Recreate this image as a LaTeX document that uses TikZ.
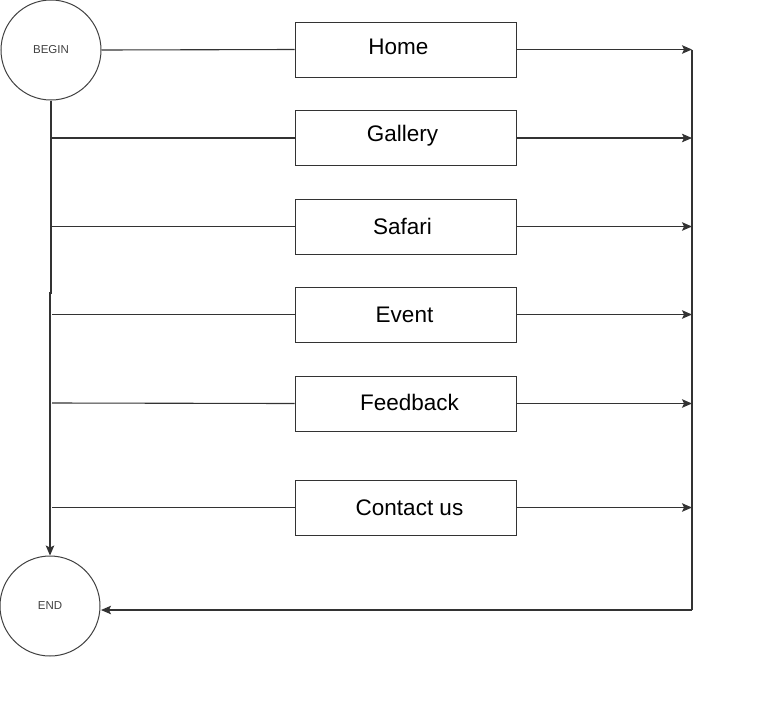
\documentclass[tikz,border=0pt]{standalone}
\usepackage{fontspec}
\setmainfont{Liberation Sans}
\usetikzlibrary{arrows.meta}
\begin{document}
\begin{tikzpicture}[x=1pt,y=-1pt,
  ln/.style={draw=black!80,line width=1.1pt},
  arr/.style={ln,-{Stealth[length=10pt,width=8.5pt,inset=2pt]}},
  term/.style={circle,draw=black!75,line width=1pt,minimum size=100pt,inner sep=0pt,font=\fontsize{11.5}{13}\selectfont,text=black!75},
  lbl/.style={font=\fontsize{22.5}{26}\selectfont},
  pagebox/.style={draw=black!80,line width=1pt,minimum width=221pt,minimum height=55pt,inner sep=0pt}]
\useasboundingbox (0,0) rectangle (766,713);
\node[term] (begin) at (51,50) {BEGIN};
\node[term] (end) at (50,606) {END};
\node[pagebox,label={[lbl,xshift=-7pt,yshift=3pt]center:Home}] (home) at (405.5,49.5) {};
\node[pagebox,label={[lbl,xshift=-3pt,yshift=2pt]center:Gallery}] (gallery) at (405.5,138) {};
\node[pagebox,label={[lbl,xshift=-3pt]center:Safari}] (safari) at (405.5,226.5) {};
\node[pagebox,label={[lbl,xshift=-1pt]center:Event}] (event) at (405.5,314.5) {};
\node[pagebox,label={[lbl,xshift=4pt,yshift=1pt]center:Feedback}] (feedback) at (405.5,403.5) {};
\node[pagebox,label={[lbl,xshift=4pt]center:Contact us}] (contact) at (405.5,507.5) {};
% left trunk
\coordinate (k1) at (51,293);
\coordinate (k2) at (50,293);
\draw[arr] (begin.south) -- (k1) -- (k2) -- (end.north);
\coordinate (lg) at (52,138);
\coordinate (ls) at (52,226.5);
\coordinate (le) at (52,314.5);
\coordinate (lf) at (52,403);
\coordinate (lc) at (52,507.5);
\draw[ln] (begin.east) -- (home.west);
\draw[ln] (lg) -- (gallery.west);
\draw[ln] (ls) -- (safari.west);
\draw[ln] (le) -- (event.west);
\draw[ln] (lf) -- (feedback.west);
\draw[ln] (lc) -- (contact.west);
% right collector
\coordinate (rh) at (692,49.5);
\coordinate (rg) at (692,138);
\coordinate (rs) at (692,226.5);
\coordinate (re) at (692,314.5);
\coordinate (rf) at (692,403.5);
\coordinate (rc) at (692,507.5);
\coordinate (rb) at (692,610);
\coordinate (eb) at (101,610);
\draw[arr] (home.east) -- (rh);
\draw[arr] (gallery.east) -- (rg);
\draw[arr] (safari.east) -- (rs);
\draw[arr] (event.east) -- (re);
\draw[arr] (feedback.east) -- (rf);
\draw[arr] (contact.east) -- (rc);
\draw[ln] (rh) -- (rb);
\draw[arr] (rb) -- (eb);
\end{tikzpicture}
\end{document}
